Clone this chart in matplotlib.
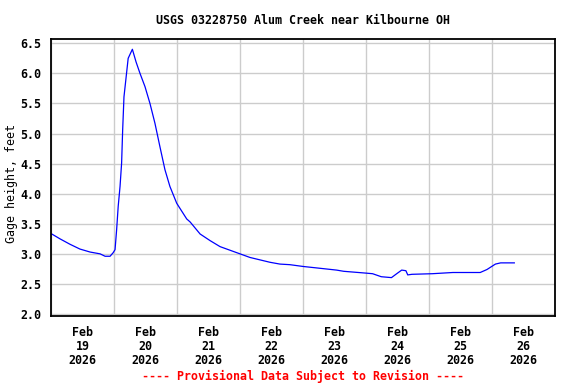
import pandas as pd
import numpy as np
import matplotlib
matplotlib.use('Agg')
import matplotlib.pyplot as plt
import matplotlib.dates as mdates

# hours since 2026-02-19 00:00 and gage height (feet)
saat = [0.3, 3.4, 7.2, 11.0, 14.9, 18.7, 20.6, 22.5, 23.7, 24.4, 25.0, 25.6, 26.3,
        26.9, 27.3, 27.8, 28.5, 29.4, 31.0, 32.4, 33.9, 35.8, 37.7, 39.6, 41.5,
        43.4, 45.3, 47.9, 51.7, 53.0, 56.8, 60.6, 64.4, 68.2, 72.0, 75.8, 79.6,
        83.4, 87.2, 91.0, 96.1, 102.5, 108.8, 111.5, 119.9, 122.5, 125.8, 129.7,
        131.7, 133.6, 135.2, 135.9, 137.5, 145.3, 153.1, 159.6, 163.5, 166.1,
        169.3, 171.3, 176.5]
seviye = [3.33, 3.25, 3.16, 3.08, 3.03, 3.00, 2.96, 2.96, 3.02, 3.07, 3.40, 3.79, 4.12,
          4.51, 5.06, 5.61, 5.89, 6.25, 6.40, 6.19, 6.00, 5.78, 5.50, 5.17, 4.78,
          4.40, 4.12, 3.84, 3.58, 3.53, 3.33, 3.22, 3.12, 3.06, 3.00, 2.94, 2.90,
          2.86, 2.83, 2.82, 2.79, 2.76, 2.73, 2.71, 2.68, 2.67, 2.62, 2.605,
          2.67, 2.73, 2.72, 2.65, 2.66, 2.67, 2.69, 2.69, 2.69, 2.74,
          2.83, 2.85, 2.85]
baslik = 'USGS 03228750 Alum Creek near Kilbourne OH'
y_etiket = 'Gage height, feet'
uyari = '---- Provisional Data Subject to Revision ----'

baslangic = pd.Timestamp('2026-02-19')
zaman = baslangic + pd.to_timedelta(saat, unit='h')

plt.rcParams['font.family'] = 'DejaVu Sans Mono'
plt.rcParams['font.weight'] = 'bold'
plt.rcParams['font.size'] = 8.4

fig = plt.figure(figsize=(5.76, 3.84), dpi=100)
ax = fig.add_axes([51/576, 1-316/384, 504/576, (316-39.3)/384])

ax.plot(zaman, seviye, color='blue', linewidth=0.9)

ax.set_xlim(baslangic, baslangic + pd.Timedelta(days=8))
ax.set_ylim(1.967, 6.566)
ax.set_yticks(np.arange(2.0, 6.51, 0.5))
ax.yaxis.set_major_formatter(plt.FormatStrFormatter('%.1f'))

ax.xaxis.set_major_locator(mdates.DayLocator())
ax.xaxis.set_major_formatter(plt.NullFormatter())
ax.xaxis.set_minor_locator(mdates.HourLocator(byhour=12))
ax.xaxis.set_minor_formatter(mdates.DateFormatter('%b\n%d\n%Y'))
for t in ax.xaxis.get_minorticklabels():
    t.set_linespacing(1.1)

ax.tick_params(axis='both', which='both', length=0)
ax.tick_params(axis='y', pad=7)
ax.tick_params(axis='x', which='minor', pad=7)

ax.grid(True, which='major', color='#cccccc', linewidth=1)
for s in ax.spines.values():
    s.set_linewidth(1.3)
    s.set_zorder(5)

ax.set_ylabel(y_etiket)
ax.yaxis.set_label_coords(-33/504, 0.48)
fig.text(303/576, 1-20/384, baslik, ha='center', va='center')
fig.text(303/576, 1-376/384, uyari, ha='center', va='center', color='red')

fig.savefig('out.png', dpi=100)
